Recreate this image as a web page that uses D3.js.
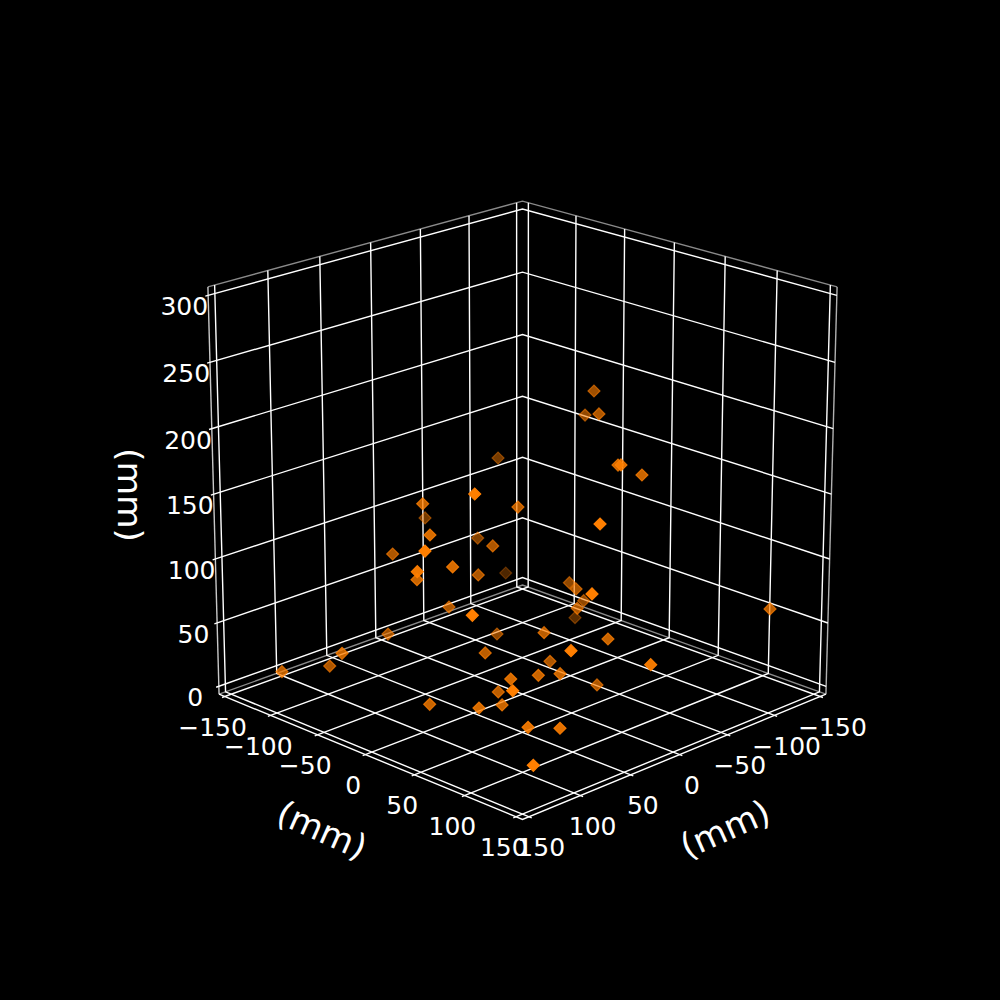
<!DOCTYPE html>
<html>
<head>
<meta charset="utf-8">
<script src="https://d3js.org/d3.v7.min.js"></script>
<style>
  body { margin: 0; background: #000; }
  text { font-family: "DejaVu Sans"; fill: #fff; }
</style>
</head>
<body>
<svg id="chart" width="1000" height="1000"></svg>
<script>
// points, mm
const xValues = [-84.5,-91.3,-67.2,-36.0,-21.8,-46.3,46.0,-103.5,-69.6,101.8,68.6,6.1,-20.4,85.3,-29.3,10.1,135.5,62.5,79.5,127.9,84.6,22.6,-98.7,-53.3,-24.8,61.6,-57.5,-22.0,-111.9,-0.9,14.8,81.3,1.2,29.1,28.1,43.1,123.3,-6.7,48.1,69.8,40.3,48.3,116.3,99.8,90.6,63.6,84.5,68.9,118.8,-18.6,153.7,114.2,134.9,64.3];
const yValues = [-11.1,-26.6,10.7,59.8,76.2,73.5,121.3,146.7,-95.3,55.4,-31.5,1.5,-122.8,-6.8,-76.0,-20.2,40.8,-69.8,10.0,24.9,-21.2,-22.5,-116.7,-4.8,29.8,129.1,5.8,33.8,-55.9,84.8,36.6,128.4,29.2,66.8,153.7,-31.8,74.6,-33.1,10.4,58.1,56.2,23.8,106.8,6.7,47.3,43.1,90.0,105.9,129.3,57.3,-89.5,-82.2,-46.1,-73.8];
const zValues = [205.8,181.8,197.5,178.3,186.1,171.6,171.1,73.1,136.4,190.6,152.3,142.1,94.2,139.4,88.2,107.4,153.5,101.9,118.1,131.8,101.3,87.6,30.3,65.6,78.0,125.6,53.1,64.8,6.9,61.4,57.0,88.7,28.6,38.1,70.1,65.7,111.7,30.0,43.3,43.4,37.0,16.9,62.6,17.5,24.1,17.1,20.3,19.7,14.1,12.5,30.4,25.4,51.8,38.6];

const xyTicks = [-150, -100, -50, 0, 50, 100, 150];
const zTicks = [0, 50, 100, 150, 200, 250, 300];
const axisLabel = "(mm)";

const svg = d3.select("#chart");

// view like a matplotlib 3d axes: elev 20, azim 45, dist 10, cube box
const elev = (20 * Math.PI) / 180;
const azim = Math.PI / 4;
const dist = 10;
const half = 0.528;
const margin = 6.25;
const [xMin, xMax] = [-150 - margin, 150 + margin];
const [zMin, zMax] = [0 - margin, 300 + margin];
const outLen = 2.6; // tick stub past the box

const boxX = d3.scaleLinear().domain([xMin, xMax]).range([-half, half]);
const boxZ = d3.scaleLinear().domain([zMin, zMax]).range([-half, half]);

const right = [-Math.sin(azim), Math.cos(azim), 0];
const up = [-Math.sin(elev) * Math.cos(azim), -Math.sin(elev) * Math.sin(azim), Math.cos(elev)];
const toEye = [Math.cos(elev) * Math.cos(azim), Math.cos(elev) * Math.sin(azim), Math.sin(elev)];
const dot = (a, b) => a[0] * b[0] + a[1] * b[1] + a[2] * b[2];

function project(x, y, z) {
  const p = [boxX(x), boxX(y), boxZ(z)];
  const depth = dist - dot(p, toEye);
  return [522.5 + (4137 * dot(p, right)) / depth, 494.2 - (4103 * dot(p, up)) / depth, depth];
}

const line3d = (pts) => d3.line()(pts.map((p) => project(...p).slice(0, 2)));

function drawLine(pts, color, width) {
  svg.append("path")
    .attr("d", line3d(pts))
    .attr("fill", "none")
    .attr("stroke", color)
    .attr("stroke-width", width);
}

// pane edges
const edgeGray = "#8a8a8a";
drawLine([[xMax, xMin, zMax], [xMin, xMin, zMax], [xMin, xMax, zMax]], edgeGray, 1.4);
drawLine([[xMax, xMin, zMin], [xMin, xMin, zMin], [xMin, xMax, zMin]], edgeGray, 1.4);
drawLine([[xMin, xMax, zMin], [xMin, xMax, zMax]], "#b0b0b0", 1.4);
drawLine([[xMax, xMin, zMin], [xMax, xMin, zMax]], "#c8c8c8", 1.4);

// grid
xyTicks.forEach((t) => {
  drawLine([[t, xMax + outLen, zMin], [t, xMin, zMin], [t, xMin, zMax]], "#fff", 1.4);
  drawLine([[xMax + outLen, t, zMin], [xMin, t, zMin], [xMin, t, zMax]], "#fff", 1.4);
});
zTicks.forEach((t) => {
  drawLine([[xMax + outLen, xMin, t], [xMin, xMin, t], [xMin, xMax, t]], "#fff", 1.4);
});

// front floor edges
drawLine([[xMax, xMin, zMin], [xMax, xMax, zMin], [xMin, xMax, zMin]], "#fff", 1.4);

// tick labels
function label(text, pos, dx, dy) {
  svg.append("text")
    .attr("x", pos[0] + dx)
    .attr("y", pos[1] + dy)
    .attr("text-anchor", "middle")
    .attr("dominant-baseline", "central")
    .attr("font-size", 25)
    .text(text);
}
const fmt = (t) => String(t).replace("-", "\u2212");
xyTicks.forEach((t) => {
  label(fmt(t), project(xMax + outLen, t, zMin), -9.5, 30);
  label(fmt(t), project(t, xMax + outLen, zMin), 9.5, 30);
});
zTicks.forEach((t) => {
  label(fmt(t), project(xMax + outLen, xMin, t), -21, 10.5);
});

// axis titles
[[322, 830, 24], [725, 829, -24], [129.5, 495, 90]].forEach(([cx, cy, rot]) => {
  svg.append("text")
    .attr("transform", `translate(${cx},${cy}) rotate(${rot})`)
    .attr("text-anchor", "middle")
    .attr("dominant-baseline", "central")
    .attr("font-size", 34.5)
    .text(axisLabel);
});

// scatter, depth shaded, far points first
const points = xValues
  .map((x, i) => project(x, yValues[i], zValues[i]))
  .sort((a, b) => b[2] - a[2]);
const shade = d3.scaleLinear().domain(d3.extent(points, (d) => d[2])).range([1, 0.3]);
const diamond = d3.symbol(d3.symbolSquare, 72);

svg.selectAll(".pt")
  .data(points)
  .enter()
  .append("path")
  .attr("class", "pt")
  .attr("d", diamond)
  .attr("transform", (d) => `translate(${d[0]},${d[1]}) rotate(45)`)
  .attr("fill", "#ff7f00")
  .attr("stroke", "#ff7f00")
  .attr("stroke-width", 1.2)
  .attr("fill-opacity", (d) => shade(d[2]))
  .attr("stroke-opacity", (d) => shade(d[2]));
</script>
</body>
</html>
